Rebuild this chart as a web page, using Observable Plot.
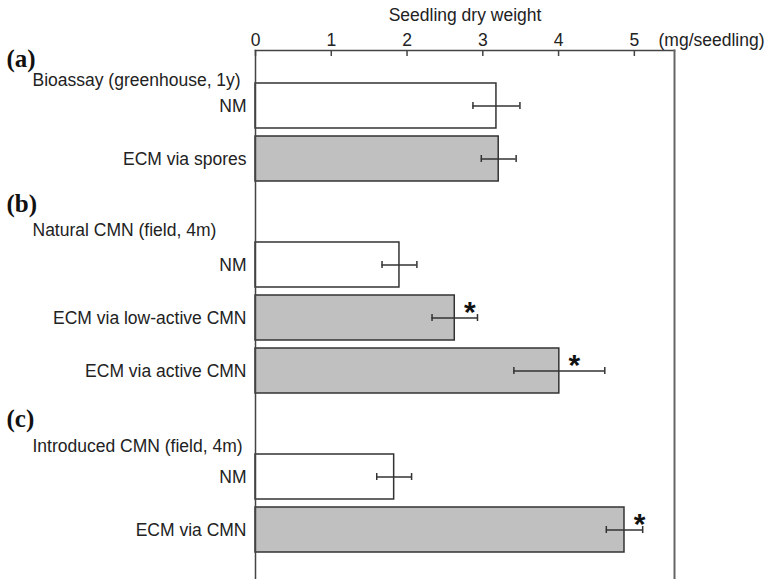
<!DOCTYPE html>
<html>
<head>
<meta charset="utf-8">
<script src="https://cdn.jsdelivr.net/npm/d3@7"></script>
<script src="https://cdn.jsdelivr.net/npm/@observablehq/plot@0.6"></script>
<style>
  html, body { margin: 0; padding: 0; background: #fff; overflow: hidden; }
  svg { display: block; }
</style>
</head>
<body>
<div id="chart"></div>
<script>
// ---- data ----
const groups = ["a", "b", "c"];
const groupLabels = ["(a)", "(b)", "(c)"];
const groupHeaders = ["Bioassay (greenhouse, 1y)", "Natural CMN (field, 4m)", "Introduced CMN (field, 4m)"];
const rowGroups = ["a", "a", "b", "b", "b", "c", "c"];
const rowLabels = ["NM", "ECM via spores", "NM", "ECM via low-active CMN", "ECM via active CMN", "NM", "ECM via CMN"];
const means = [3.18, 3.21, 1.90, 2.63, 4.01, 1.83, 4.87];
const errors = [0.31, 0.23, 0.23, 0.30, 0.60, 0.23, 0.24];
const inoculated = [false, true, false, true, true, false, true];
const significant = [false, false, false, true, true, false, true];
const xTicks = [0, 1, 2, 3, 4, 5];
const xMax = 5.53;
const axisTitle = "Seedling dry weight";
const unitLabel = "(mg/seedling)";

(function () {
  const rows = rowLabels.map((label, i) => ({
    key: rowGroups[i] + i,
    group: rowGroups[i],
    label,
    mean: means[i],
    err: errors[i],
    inoculated: inoculated[i],
    significant: significant[i]
  }));
  const yDomain = [];
  groups.forEach((g, gi) => {
    if (gi > 0) yDomain.push("gap-" + g);
    rows.filter(r => r.group === g).forEach(r => yDomain.push(r.key));
  });
  const headerRows = groups.map((g, gi) => ({
    key: rows.find(r => r.group === g).key,
    header: groupHeaders[gi],
    label: groupLabels[gi]
  }));

  const W = 767, H = 579, mTop = 50;
  const font = "'Liberation Sans', Arial, Helvetica, sans-serif";
  const ink = "#333";
  const fs = 17.5;
  const headerDy = [-19.5, -28.5, -25.5];
  const groupDy = [-38.5, -52.5, -50.5];

  const marks = [
    Plot.barX(rows, {
      x: "mean", y: "key",
      fill: d => d.inoculated ? "#c0c0c0" : "#ffffff",
      stroke: ink, strokeWidth: 1.5
    }),
    Plot.ruleY(rows, {y: "key", x1: d => d.mean - d.err, x2: d => d.mean + d.err, stroke: ink, strokeWidth: 1.5}),
    Plot.tickX(rows, {x: d => d.mean - d.err, y: "key", insetTop: 19, insetBottom: 19, stroke: ink, strokeWidth: 1.5}),
    Plot.tickX(rows, {x: d => d.mean + d.err, y: "key", insetTop: 19, insetBottom: 19, stroke: ink, strokeWidth: 1.5}),
    Plot.text(rows.filter(d => d.significant), {
      x: "mean", y: "key", text: () => "*", dx: 15, dy: -5.5,
      fontSize: 30, fontWeight: "bold", fill: "#111"
    }),
    Plot.frame({anchor: "top", stroke: "#444", strokeWidth: 1.5}),
    Plot.frame({anchor: "left", stroke: "#444", strokeWidth: 1.5}),
    Plot.frame({anchor: "right", stroke: "#666", strokeWidth: 2}),
    Plot.tickX(xTicks, {x: d => d, insetBottom: H - mTop - 6, stroke: "#444", strokeWidth: 1.5}),
    Plot.axisX({anchor: "top", ticks: xTicks, tickFormat: d => String(d), tickSize: 0, tickPadding: 5, fontSize: fs, label: null, fill: "#222"}),
    Plot.text([axisTitle], {frameAnchor: "top", dy: -30, lineAnchor: "bottom", fontSize: fs, fill: "#222"}),
    Plot.text([unitLabel], {frameAnchor: "top-right", dx: -16, dy: -5, textAnchor: "start", lineAnchor: "bottom", fontSize: fs, fill: "#222"}),
    Plot.text(rows, {y: "key", text: "label", frameAnchor: "left", dx: -9, textAnchor: "end", fontSize: fs, fill: "#222"}),
    ...headerRows.map((h, gi) => Plot.text([h], {
      y: "key", text: "header", frameAnchor: "left", dx: -223, dy: headerDy[gi],
      textAnchor: "start", lineAnchor: "bottom", fontSize: fs, fill: "#222"
    })),
    ...headerRows.map((h, gi) => Plot.text([h], {
      y: "key", text: "label", frameAnchor: "left", dx: -249, dy: groupDy[gi],
      textAnchor: "start", lineAnchor: "bottom", fontSize: 25, fontWeight: "bold",
      fontFamily: "'Liberation Serif', 'Times New Roman', serif", fill: "#111"
    }))
  ];

  const chart = Plot.plot({
    width: W,
    height: H,
    marginTop: mTop,
    marginLeft: 255,
    marginRight: 93,
    marginBottom: 0,
    style: {fontFamily: font, background: "#fff", color: "#222"},
    x: {domain: [0, xMax], axis: null},
    y: {domain: yDomain, range: [mTop, H], paddingInner: 8 / 53, paddingOuter: 0.566, align: 0.55, round: false, axis: null},
    marks
  });
  document.getElementById("chart").appendChild(chart);
})();
</script>
</body>
</html>
